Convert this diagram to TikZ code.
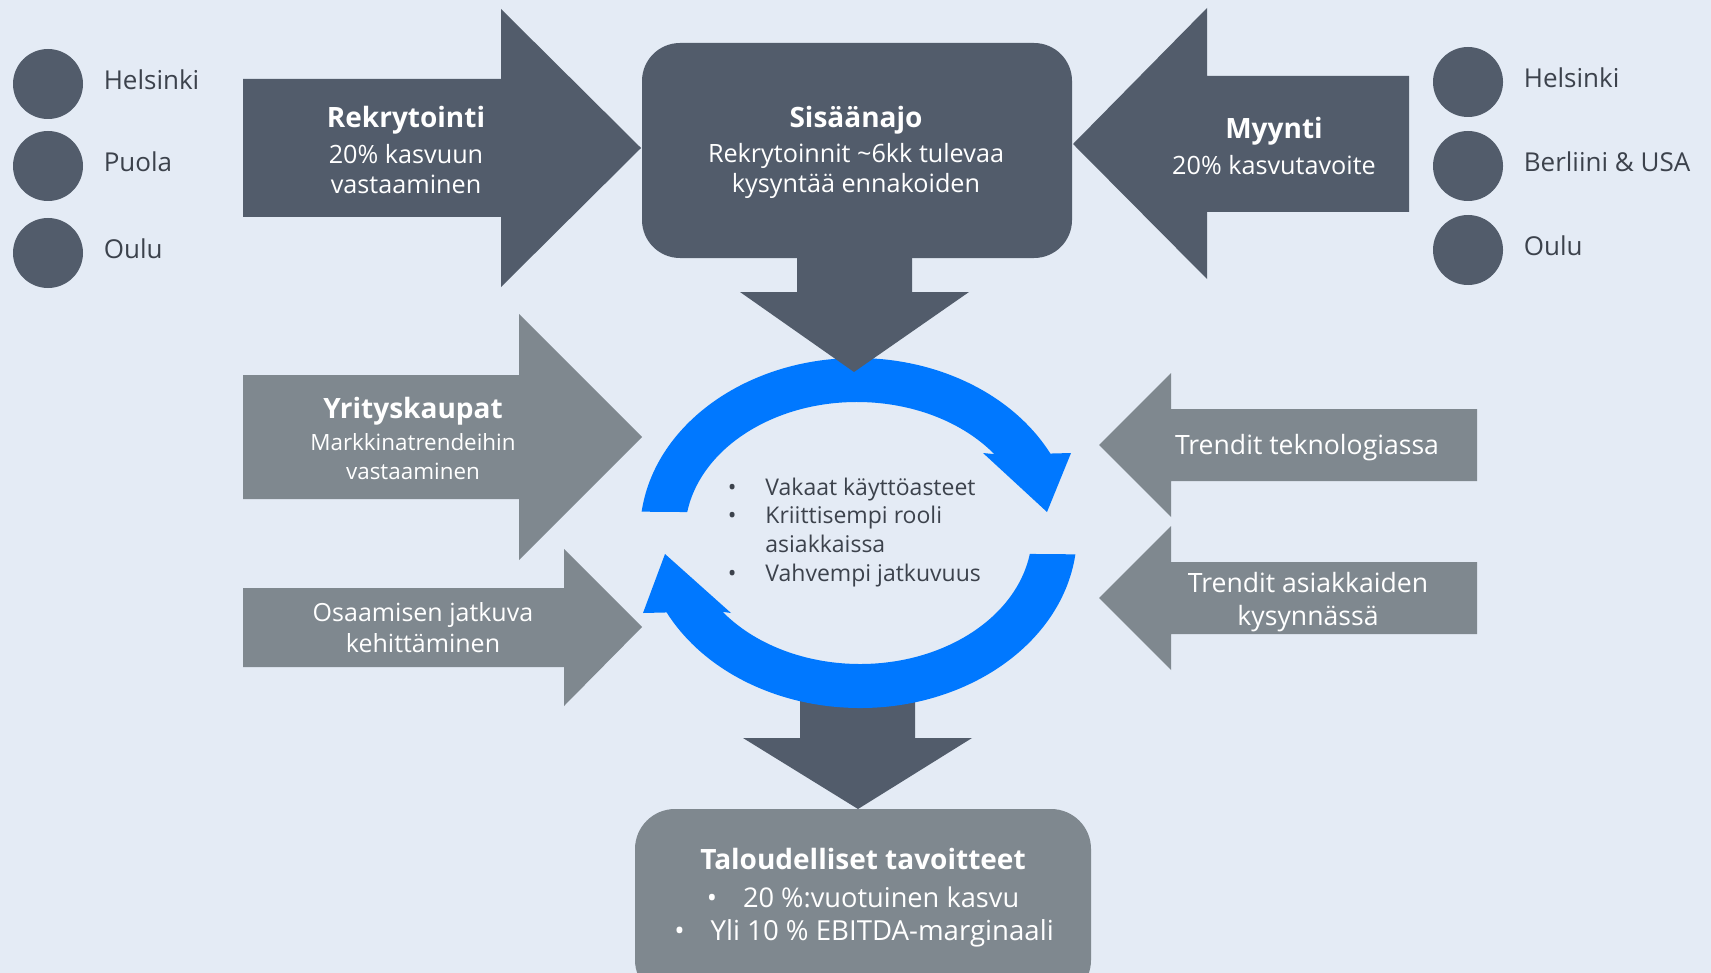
\documentclass[tikz,border=0pt]{standalone}
\usepackage{fontspec}
\setmainfont{Open Sans}
\usepackage{tikz}
\usetikzlibrary{positioning}
\definecolor{backdrop}{HTML}{E4EBF5}
\definecolor{slate}{HTML}{525C6B}
\definecolor{steel}{HTML}{7F888F}
\definecolor{loopblue}{HTML}{0078FF}
\definecolor{ink}{HTML}{3C424C}

\begin{document}
\begin{tikzpicture}[x=0.5pt, y=-0.5pt,
        sitedot/.style={circle, fill=slate, minimum size=35pt, inner sep=0pt},
        sitelabel/.style={text=ink, font=\fontsize{13}{15}\selectfont, inner sep=0pt, yshift=2pt},
        boxtitle/.style={text=white, font=\bfseries\fontsize{14}{17}\selectfont, inner sep=0pt},
        boxtext/.style={text=white, align=center, font=\fontsize{12.6}{15}\selectfont, inner sep=0pt},
        looptext/.style={text=ink, font=\fontsize{11.5}{14}\selectfont, inner sep=0pt, text height=1.5ex, text depth=.25ex}]
    \fill[backdrop] (0, 0) rectangle (1711, 973);
    \clip (0, 0) rectangle (1711, 973);
    \node[sitedot] (hl) at (48, 84) {};
    \node[sitedot] (pu) at (48, 166) {};
    \node[sitedot] (ou) at (48, 253) {};
    \node[sitelabel, right=10pt of hl] (hlt) {Helsinki};
    \node[sitelabel, right=10pt of pu] (put) {Puola};
    \node[sitelabel, right=10pt of ou] (out) {Oulu};
    \node[sitedot] (hr) at (1468, 82) {};
    \node[sitedot] (br) at (1468, 166) {};
    \node[sitedot] (or) at (1468, 250) {};
    \node[sitelabel, right=10pt of hr] (hrt) {Helsinki};
    \node[sitelabel, right=10pt of br] (brt) {Berliini \& USA};
    \node[sitelabel, right=10pt of or] (ort) {Oulu};
    \fill[slate] (243, 79) -- (501, 79) -- (501, 9) -- (641, 148) -- (501, 287) -- (501, 217) -- (243, 217) -- cycle;
    \fill[slate, rounded corners=19pt] (642, 43) rectangle (1072, 258);
    \fill[slate] (1409, 76) -- (1207, 76) -- (1207, 8) -- (1073, 144) -- (1207, 279) -- (1207, 212) -- (1409, 212) -- cycle;
    \fill[steel] (243, 375) -- (519, 375) -- (519, 314) -- (642, 437) -- (519, 560) -- (519, 499) -- (243, 499) -- cycle;
    \fill[steel] (243, 588) -- (564, 588) -- (564, 549) -- (642, 627) -- (564, 706) -- (564, 667) -- (243, 667) -- cycle;
    \begin{scope}[shift={(1099, 445)}]
        \fill[steel] (0, 0) -- (72, -72) -- (72, -36) -- (378, -36) -- (378, 36) -- (72, 36) -- (72, 72) -- cycle;
    \end{scope}
    \begin{scope}[shift={(1099, 598)}]
        \fill[steel] (0, 0) -- (72, -72) -- (72, -36) -- (378, -36) -- (378, 36) -- (72, 36) -- (72, 72) -- cycle;
    \end{scope}
    \fill[slate] (800, 680) -- (915, 680) -- (915, 738) -- (972, 738) -- (858, 809) -- (743, 738) -- (800, 738) -- cycle;
    \coordinate (cc) at (857, 533);
    \coordinate (cd) at (860, 533);
    \fill[loopblue] ([shift={(187:217 and 175)}]cc) arc[start angle=187, end angle=333, x radius=217, y radius=175]
        -- (1071, 453) -- (1047, 512) -- (983, 453)
        -- ([shift={(323:172 and 131)}]cc) arc[start angle=323, end angle=189.2, x radius=172, y radius=131] -- cycle;
    \fill[loopblue] ([shift={(7:217 and 175)}]cd) arc[start angle=7, end angle=153, x radius=217, y radius=175]
        -- (643, 613) -- (665, 554) -- (731, 613)
        -- ([shift={(143:172 and 131)}]cd) arc[start angle=143, end angle=9.2, x radius=172, y radius=131] -- cycle;
    \fill[slate] (797, 250) -- (912, 250) -- (912, 292) -- (969, 292) -- (854, 372) -- (740, 292) -- (797, 292) -- cycle;
    \fill[steel, rounded corners=20pt] (635, 809) rectangle (1091, 1000);
    \node[boxtitle] (rekt) at (406, 120) {Rekrytointi};
    \node[boxtext] (reks) at (406, 169) {20\% kasvuun\\vastaaminen};
    \node[boxtitle] (sist) at (856, 120) {Sisäänajo};
    \node[boxtext] (siss) at (856, 171) {Rekrytoinnit \textasciitilde 6kk tulevaa\\kysyntää ennakoiden};
    \node[boxtitle] (myyt) at (1274, 131) {Myynti};
    \node[boxtext] (myys) at (1274, 165) {20\% kasvutavoite};
    \node[boxtitle] (yrit) at (413, 411) {Yrityskaupat};
    \node[boxtext, font=\fontsize{11.2}{14.5}\selectfont] (yris) at (413, 457) {Markkinatrendeihin\\vastaaminen};
    \node[boxtext, font=\fontsize{12.5}{15.5}\selectfont] (osa) at (423, 628) {Osaamisen jatkuva\\kehittäminen};
    \node[boxtext, font=\fontsize{13.3}{16.5}\selectfont] (tek) at (1307, 448) {Trendit teknologiassa};
    \node[boxtext, font=\fontsize{13.3}{16.5}\selectfont] (kys) at (1308, 602) {Trendit asiakkaiden\\kysynnässä};
    \node[looptext, anchor=west] (b1) at (765, 489) {Vakaat käyttöasteet};
    \node[looptext, anchor=west] (b2) at (765, 517) {Kriittisempi rooli};
    \node[looptext, anchor=west] (b3) at (765, 546) {asiakkaissa};
    \node[looptext, anchor=west] (b4) at (765, 575) {Vahvempi jatkuvuus};
    \node[looptext, left=14pt of b1] (d1) {\textbullet};
    \node[looptext, left=14pt of b2] (d2) {\textbullet};
    \node[looptext, left=14pt of b4] (d4) {\textbullet};
    \node[boxtitle] (talt) at (863, 859) {Taloudelliset tavoitteet};
    \node[boxtext, font=\fontsize{13.6}{16}\selectfont] (tal1) at (863, 897) {\textbullet\hspace{13pt}20 \%:vuotuinen kasvu};
    \node[boxtext, font=\fontsize{13.8}{16}\selectfont] (tal2) at (864, 933) {\textbullet\hspace{13pt}Yli 10 \% EBITDA-marginaali};
\end{tikzpicture}
\end{document}
